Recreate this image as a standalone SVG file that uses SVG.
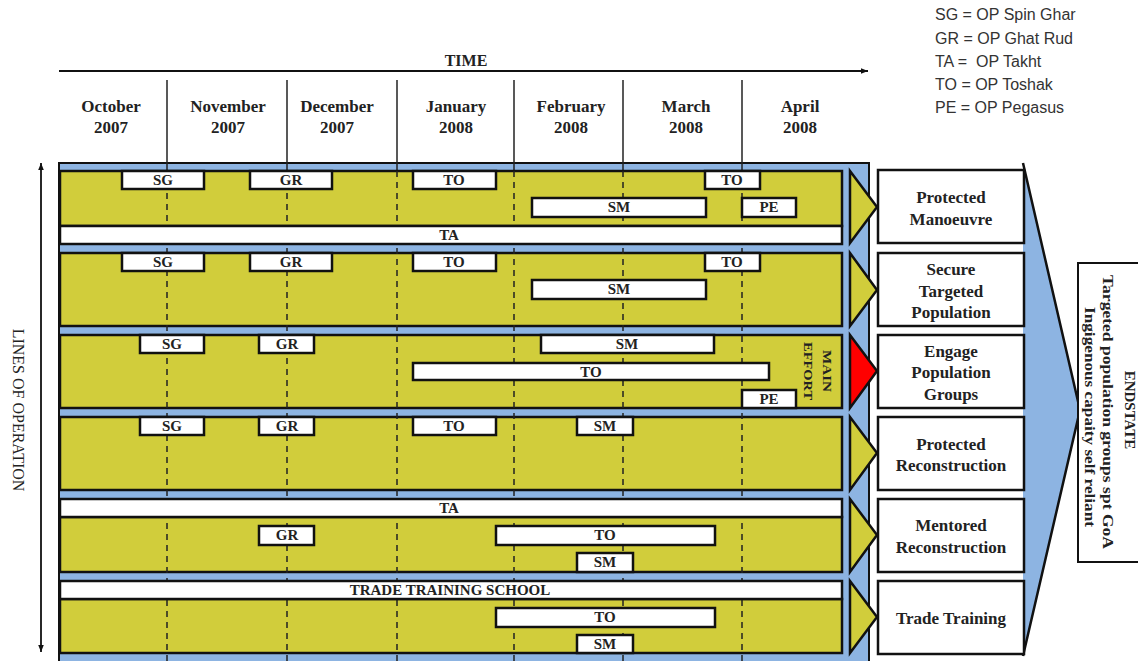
<svg xmlns="http://www.w3.org/2000/svg" width="1138" height="661" viewBox="0 0 1138 661">
<style>
.serif{font-family:"Liberation Serif","Times New Roman",serif;font-weight:bold;fill:#222}
.hdr{font-size:17px;text-anchor:middle}
.lbl{font-size:15px;text-anchor:middle}
.box{font-size:17px;text-anchor:middle}
.leg{font-family:"Liberation Sans",Arial,sans-serif;font-size:16px;fill:#333}
.row{fill:#D1CD3B;stroke:#111;stroke-width:2.5}
.bar{fill:#fff;stroke:#111;stroke-width:2.5}
.blue{fill:#8DB4E2;stroke:#111;stroke-width:2}
.mline{stroke:#222;stroke-width:1.5}
.dash{stroke:#222;stroke-width:1.5;stroke-dasharray:6 5}
.chev{fill:#D1CD3B;stroke:#111;stroke-width:2.5;stroke-linejoin:miter}
.nbox{fill:#fff;stroke:#111;stroke-width:2.5}
</style>
<defs>
<marker id="ah" viewBox="0 0 10 10" refX="10" refY="5" markerWidth="7" markerHeight="7" markerUnits="userSpaceOnUse" orient="auto-start-reverse">
<path d="M0,1 L10,5 L0,9 z" fill="#111"/>
</marker>
</defs>
<rect width="1138" height="661" fill="#fff"/>

<!-- Legend -->
<g id="legend" class="leg">
<text x="935" y="20">SG = OP Spin Ghar</text>
<text x="935" y="44">GR = OP Ghat Rud</text>
<text x="935" y="67" xml:space="preserve">TA =  OP Takht</text>
<text x="935" y="90">TO = OP Toshak</text>
<text x="935" y="113">PE = OP Pegasus</text>
</g>

<!-- Header -->
<g id="time-header">
<text class="serif" x="466" y="66" font-size="16" text-anchor="middle">TIME</text>
<g class="serif hdr">
<text x="111" y="112">October</text><text x="111" y="133">2007</text>
<text x="228" y="112">November</text><text x="228" y="133">2007</text>
<text x="337" y="112">December</text><text x="337" y="133">2007</text>
<text x="456" y="112">January</text><text x="456" y="133">2008</text>
<text x="571" y="112">February</text><text x="571" y="133">2008</text>
<text x="686" y="112">March</text><text x="686" y="133">2008</text>
<text x="800" y="112">April</text><text x="800" y="133">2008</text>
</g>
</g>

<!-- Big endstate arrow -->
<g id="endstate-arrow">
<polygon points="1023,163 1080,410 1023,656" fill="#8DB4E2"/>
<polyline points="1023,163 1080,410 1023,656" fill="none" stroke="#111" stroke-width="2.5"/>
</g>

<!-- Frame -->
<g id="frame">
<rect class="blue" x="59" y="163" width="810" height="510"/>
</g>

<!-- Month divider lines -->
<g id="month-lines">
<g class="mline">
<line x1="167" y1="80" x2="167" y2="171"/><line x1="287" y1="80" x2="287" y2="171"/><line x1="397" y1="80" x2="397" y2="171"/>
<line x1="514" y1="80" x2="514" y2="171"/><line x1="623" y1="80" x2="623" y2="171"/><line x1="742" y1="80" x2="742" y2="171"/>
</g>
</g>

<!-- Rows -->
<g id="row1"><rect class="row" x="60" y="171" width="782" height="55"/></g>
<g id="row2"><rect class="row" x="60" y="253" width="782" height="73"/></g>
<g id="row3"><rect class="row" x="60" y="335" width="782" height="73"/></g>
<g id="row4"><rect class="row" x="60" y="417" width="782" height="73"/></g>
<g id="row5"><rect class="row" x="60" y="517" width="782" height="55"/></g>
<g id="row6"><rect class="row" x="60" y="599" width="782" height="54"/></g>

<g id="dashed-lines" class="dash">
<line x1="167" y1="171" x2="167" y2="661"/><line x1="287" y1="171" x2="287" y2="661"/><line x1="397" y1="171" x2="397" y2="661"/>
<line x1="514" y1="171" x2="514" y2="661"/><line x1="623" y1="171" x2="623" y2="661"/><line x1="742" y1="171" x2="742" y2="661"/>
</g>

<!-- Long bars -->
<g id="long-bars">
<rect class="bar" x="60" y="226" width="782" height="18"/>
<text class="serif lbl" x="449" y="240">TA</text>
<rect class="bar" x="60" y="499" width="782" height="18"/>
<text class="serif lbl" x="449" y="513">TA</text>
<rect class="bar" x="60" y="581" width="782" height="18"/>
<text class="serif lbl" x="450" y="595">TRADE TRAINING SCHOOL</text>
</g>

<!-- Row ops -->
<g id="row1-ops">
<rect class="bar" x="122" y="171" width="82" height="18"/><text class="serif lbl" x="163" y="185">SG</text>
<rect class="bar" x="250" y="171" width="82" height="18"/><text class="serif lbl" x="291" y="185">GR</text>
<rect class="bar" x="413" y="171" width="83" height="18"/><text class="serif lbl" x="454" y="185">TO</text>
<rect class="bar" x="705" y="171" width="55" height="18"/><text class="serif lbl" x="732" y="185">TO</text>
<rect class="bar" x="532" y="198" width="174" height="19"/><text class="serif lbl" x="619" y="212">SM</text>
<rect class="bar" x="742" y="198" width="54" height="19"/><text class="serif lbl" x="769" y="212">PE</text>
</g>
<g id="row2-ops">
<rect class="bar" x="122" y="253" width="82" height="18"/><text class="serif lbl" x="163" y="267">SG</text>
<rect class="bar" x="250" y="253" width="82" height="18"/><text class="serif lbl" x="291" y="267">GR</text>
<rect class="bar" x="413" y="253" width="83" height="18"/><text class="serif lbl" x="454" y="267">TO</text>
<rect class="bar" x="705" y="253" width="55" height="18"/><text class="serif lbl" x="732" y="267">TO</text>
<rect class="bar" x="532" y="280" width="174" height="19"/><text class="serif lbl" x="619" y="294">SM</text>
</g>
<g id="row3-ops">
<rect class="bar" x="140" y="335" width="64" height="18"/><text class="serif lbl" x="172" y="349">SG</text>
<rect class="bar" x="259" y="335" width="55" height="18"/><text class="serif lbl" x="287" y="349">GR</text>
<rect class="bar" x="541" y="335" width="173" height="18"/><text class="serif lbl" x="627" y="349">SM</text>
<rect class="bar" x="413" y="363" width="356" height="17"/><text class="serif lbl" x="591" y="377">TO</text>
<rect class="bar" x="742" y="390" width="54" height="18"/><text class="serif lbl" x="769" y="404">PE</text>
<g class="serif" font-size="13" text-anchor="middle">
<text transform="translate(823,371) rotate(90)" textLength="42" lengthAdjust="spacingAndGlyphs">MAIN</text>
<text transform="translate(804,371) rotate(90)" textLength="58" lengthAdjust="spacingAndGlyphs">EFFORT</text>
</g>
</g>
<g id="row4-ops">
<rect class="bar" x="140" y="417" width="64" height="18"/><text class="serif lbl" x="172" y="431">SG</text>
<rect class="bar" x="259" y="417" width="55" height="18"/><text class="serif lbl" x="287" y="431">GR</text>
<rect class="bar" x="413" y="417" width="83" height="18"/><text class="serif lbl" x="454" y="431">TO</text>
<rect class="bar" x="577" y="417" width="56" height="18"/><text class="serif lbl" x="605" y="431">SM</text>
</g>
<g id="row5-ops">
<rect class="bar" x="259" y="526" width="55" height="19"/><text class="serif lbl" x="287" y="540">GR</text>
<rect class="bar" x="496" y="526" width="219" height="19"/><text class="serif lbl" x="605" y="540">TO</text>
<rect class="bar" x="577" y="553" width="56" height="19"/><text class="serif lbl" x="605" y="567">SM</text>
</g>
<g id="row6-ops">
<rect class="bar" x="496" y="608" width="219" height="19"/><text class="serif lbl" x="605" y="622">TO</text>
<rect class="bar" x="577" y="635" width="56" height="18"/><text class="serif lbl" x="605" y="649">SM</text>
</g>

<!-- Chevrons -->
<g id="chevrons">
<polygon class="chev" points="850,171 877,207 850,243"/>
<polygon class="chev" points="850,253 877,290 850,326"/>
<polygon class="chev" points="850,335 877,371 850,408" style="fill:#FF0000"/>
<polygon class="chev" points="850,417 877,453 850,490"/>
<polygon class="chev" points="850,499 877,535 850,572"/>
<polygon class="chev" points="850,581 877,617 850,653"/>
</g>

<!-- Effect boxes -->
<g id="protected-manoeuvre">
<rect class="nbox" x="878" y="170" width="146" height="73"/>
<text class="serif box" x="951" y="203">Protected</text><text class="serif box" x="951" y="225">Manoeuvre</text>
</g>
<g id="secure-targeted-population">
<rect class="nbox" x="878" y="253" width="146" height="73"/>
<text class="serif box" x="951" y="275">Secure</text><text class="serif box" x="951" y="297">Targeted</text><text class="serif box" x="951" y="318">Population</text>
</g>
<g id="engage-population-groups">
<rect class="nbox" x="878" y="335" width="146" height="73"/>
<text class="serif box" x="951" y="357">Engage</text><text class="serif box" x="951" y="378">Population</text><text class="serif box" x="951" y="400">Groups</text>
</g>
<g id="protected-reconstruction">
<rect class="nbox" x="878" y="417" width="146" height="73"/>
<text class="serif box" x="951" y="450">Protected</text><text class="serif box" x="951" y="471">Reconstruction</text>
</g>
<g id="mentored-reconstruction">
<rect class="nbox" x="878" y="499" width="146" height="73"/>
<text class="serif box" x="951" y="531">Mentored</text><text class="serif box" x="951" y="553">Reconstruction</text>
</g>
<g id="trade-training">
<rect class="nbox" x="878" y="581" width="146" height="73"/>
<text class="serif box" x="951" y="624">Trade Training</text>
</g>

<!-- Endstate -->
<g id="endstate">
<rect x="1078" y="263" width="70" height="299" fill="#fff" stroke="#111" stroke-width="2"/>
<g class="serif" text-anchor="middle">
<text transform="translate(1125,410) rotate(90)" font-size="15">ENDSTATE</text>
<text transform="translate(1103,412) rotate(90)" font-size="15" textLength="274" lengthAdjust="spacingAndGlyphs">Targeted population groups spt GoA</text>
<text transform="translate(1085,417) rotate(90)" font-size="15" textLength="220" lengthAdjust="spacingAndGlyphs">Ingigenous capaity self reliant</text>
</g>
</g>

<!-- Axis label -->
<g id="lines-of-operation">
<text transform="translate(13,410) rotate(90)" font-family="Liberation Serif, Times New Roman, serif" font-size="16" fill="#222" text-anchor="middle">LINES OF OPERATION</text>
</g>

<!-- Connectors -->
<g id="connectors" stroke="#111" stroke-width="1.8" fill="none">
<line x1="59" y1="71" x2="868" y2="71" marker-end="url(#ah)"/>
<line x1="41" y1="163" x2="41" y2="652" marker-start="url(#ah)" marker-end="url(#ah)"/>
</g>
</svg>
